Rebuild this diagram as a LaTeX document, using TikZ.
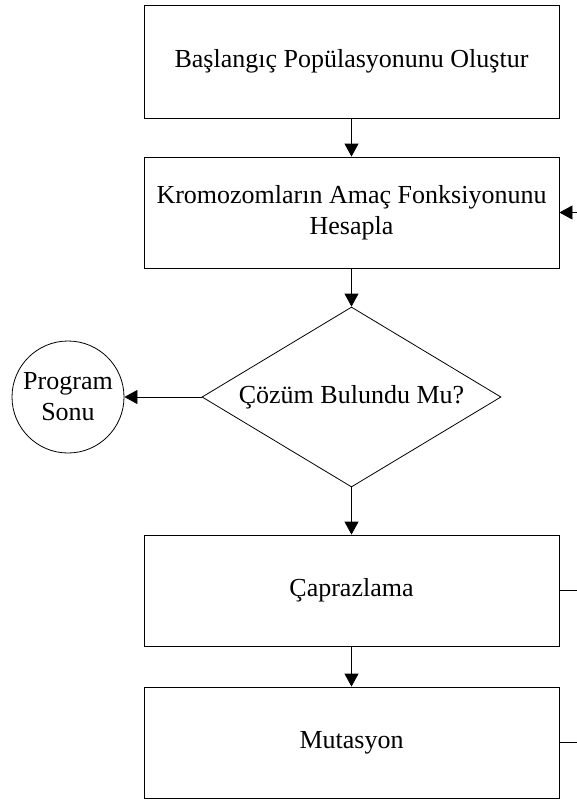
\documentclass[tikz,border=0pt]{standalone}
\usepackage{fontspec}
\setmainfont{Liberation Serif}
\usetikzlibrary{shapes.geometric,arrows.meta}
\begin{document}
\begin{tikzpicture}[x=1pt,y=-1pt,
  every node/.style={font=\fontsize{26}{31}\selectfont},
  proc/.style={draw, line width=0.8pt, minimum width=415pt, minimum height=111pt, align=center, inner sep=2pt},
  dec/.style={draw, line width=0.8pt, diamond, minimum width=299pt, minimum height=180pt, inner sep=0pt},
  term/.style={draw, line width=0.8pt, circle, minimum size=112pt, align=center, inner sep=0pt},
  conn/.style={line width=0.8pt, -{Triangle[width=14pt,length=13pt]}},
  plain/.style={line width=0.8pt}]
\useasboundingbox (0,0) rectangle (577,800);
\node[proc, minimum height=113pt] (b1) at (351.5,61.5) {Başlangıç Popülasyonunu Oluştur};
\node[proc] (b2) at (351.5,212.5) {Kromozomların Amaç Fonksiyonunu\\Hesapla};
\node[dec] (d) at (351.5,397) {};
\node (dt) at (d.center) {Çözüm Bulundu Mu?};
\node[term] (t) at (68,397) {Program\\Sonu};
\node[proc] (b3) at (351.5,590.5) {Çaprazlama};
\node[proc] (b4) at (351.5,742.5) {Mutasyon};
\coordinate (r2) at (578,212.5);
\coordinate (r3) at (578,590.5);
\coordinate (r4) at (578,742.5);
\draw[conn] (b1.south) -- (b2.north);
\draw[conn] (b2.south) -- (d.north);
\draw[conn] (d.west) -- (t.east);
\draw[conn] (d.south) -- (b3.north);
\draw[conn] (b3.south) -- (b4.north);
\draw[conn] (r2) -- (b2.east);
\draw[plain] (b3.east) -- (r3);
\draw[plain] (b4.east) -- (r4);
\end{tikzpicture}
\end{document}
